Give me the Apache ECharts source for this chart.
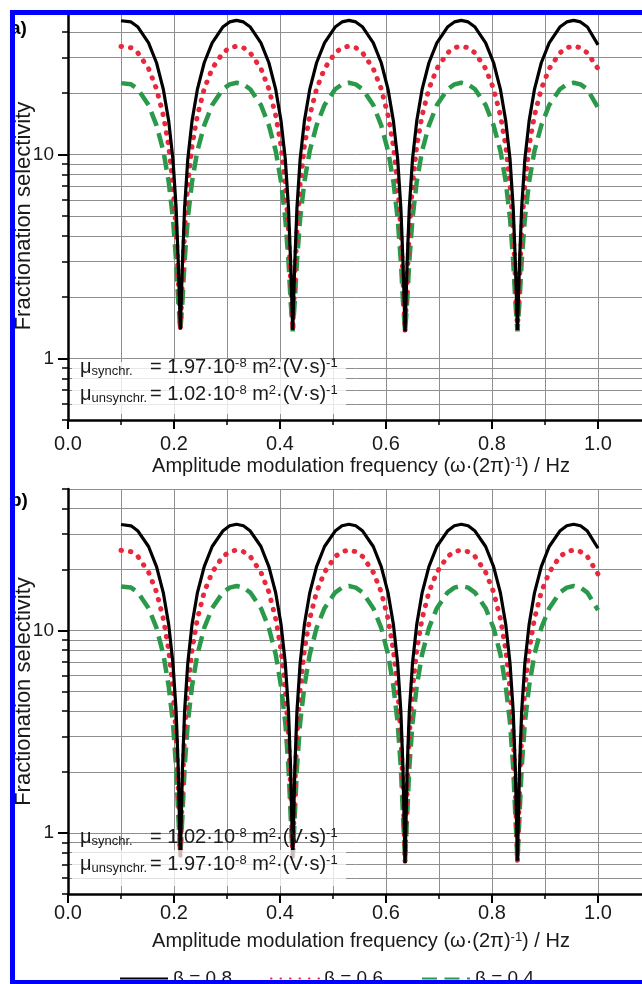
<!DOCTYPE html>
<html>
<head>
<meta charset="utf-8">
<script src="https://cdn.jsdelivr.net/npm/echarts@6/dist/echarts.min.js"></script>
<style>
html,body{margin:0;padding:0;background:#fff;}
#chart{width:642px;height:984px;}
</style>
</head>
<body>
<div id="chart"></div>
<script>
// ---- data ----
var xs = [0.100,0.119,0.132,0.152,0.167,0.180,0.190,0.198,0.204,0.208,0.212,
  0.216,0.220,0.226,0.234,0.244,0.257,0.272,0.292,0.305,0.318,0.331,0.344,0.364,0.379,0.392,0.402,0.410,0.416,0.420,0.424,
  0.428,0.432,0.438,0.446,0.456,0.469,0.484,0.504,0.517,0.530,0.543,0.556,0.576,0.591,0.604,0.614,0.622,0.628,0.632,0.636,
  0.640,0.644,0.650,0.658,0.668,0.681,0.696,0.716,0.729,0.742,0.755,0.768,0.788,0.803,0.816,0.826,0.834,0.840,0.844,0.848,
  0.852,0.856,0.862,0.870,0.880,0.893,0.908,0.928,0.941,0.954,0.967,0.980,1.000];

var aBlack = [45.3,44.7,42.2,35.3,28.2,20.8,14.6,9.5,5.5,3.0,1.39,
  3.0,5.5,9.5,14.6,20.8,28.2,35.3,42.2,44.7,45.5,44.7,42.2,35.3,28.2,20.8,14.6,9.5,5.5,3.0,1.38,
  3.0,5.5,9.5,14.6,20.8,28.2,35.3,42.2,44.7,45.5,44.7,42.2,35.3,28.2,20.8,14.6,9.5,5.5,3.0,1.36,
  3.0,5.5,9.5,14.6,20.8,28.2,35.3,42.2,44.7,45.5,44.7,42.2,35.3,28.2,20.8,14.6,9.5,5.5,3.0,1.38,
  3.0,5.5,9.5,14.6,20.8,28.2,35.3,42.2,44.7,45.5,44.7,42.2,34.5];
var aRed = [33.9,33.4,31.5,26.4,21.0,15.5,11.0,7.15,4.25,2.45,1.39,
  2.45,4.25,7.15,11.0,15.5,21.0,26.4,31.5,33.4,34.0,33.4,31.5,26.4,21.0,15.5,11.0,7.15,4.25,2.45,1.38,
  2.45,4.25,7.15,11.0,15.5,21.0,26.4,31.5,33.4,34.0,33.4,31.5,26.4,21.0,15.5,11.0,7.15,4.25,2.45,1.36,
  2.45,4.25,7.15,11.0,15.5,21.0,26.4,31.5,33.4,34.0,33.4,31.5,26.4,21.0,15.5,11.0,7.15,4.25,2.45,1.38,
  2.45,4.25,7.15,11.0,15.5,21.0,26.4,31.5,33.4,34.0,33.4,31.5,26.4];
var aGreen = [22.4,22.1,20.9,17.5,13.9,10.4,7.35,4.85,3.0,1.92,1.37,
  1.92,3.0,4.85,7.35,10.4,13.9,17.5,20.9,22.1,22.5,22.1,20.9,17.5,13.9,10.4,7.35,4.85,3.0,1.92,1.36,
  1.92,3.0,4.85,7.35,10.4,13.9,17.5,20.9,22.1,22.5,22.1,20.9,17.5,13.9,10.4,7.35,4.85,3.0,1.92,1.35,
  1.92,3.0,4.85,7.35,10.4,13.9,17.5,20.9,22.1,22.5,22.1,20.9,17.5,13.9,10.4,7.35,4.85,3.0,1.92,1.36,
  1.92,3.0,4.85,7.35,10.4,13.9,17.5,20.9,22.1,22.5,22.1,20.9,17.0];

var bBlack = [33.4,32.9,31.0,26.0,20.7,15.3,10.7,6.9,4.0,2.1,0.76,
  2.1,4.0,6.9,10.7,15.3,20.7,26.0,31.0,32.9,33.5,32.9,31.0,26.0,20.7,15.3,10.7,6.9,4.0,2.1,0.75,
  2.1,4.0,6.9,10.7,15.3,20.7,26.0,31.0,32.9,33.5,32.9,31.0,26.0,20.7,15.3,10.7,6.9,4.0,2.1,0.71,
  2.1,4.0,6.9,10.7,15.3,20.7,26.0,31.0,32.9,33.5,32.9,31.0,26.0,20.7,15.3,10.7,6.9,4.0,2.1,0.73,
  2.1,4.0,6.9,10.7,15.3,20.7,26.0,31.0,32.9,33.5,32.9,31.0,25.5];
var bRed = [24.9,24.5,23.2,19.4,15.5,11.4,8.0,5.15,3.05,1.66,0.76,
  1.66,3.05,5.15,8.0,11.4,15.5,19.4,23.2,24.5,25.0,24.5,23.2,19.4,15.5,11.4,8.0,5.15,3.05,1.66,0.75,
  1.66,3.05,5.15,8.0,11.4,15.5,19.4,23.2,24.5,25.0,24.5,23.2,19.4,15.5,11.4,8.0,5.15,3.05,1.66,0.72,
  1.66,3.05,5.15,8.0,11.4,15.5,19.4,23.2,24.5,25.0,24.5,23.2,19.4,15.5,11.4,8.0,5.15,3.05,1.66,0.72,
  1.66,3.05,5.15,8.0,11.4,15.5,19.4,23.2,24.5,25.0,24.5,23.2,19.0];
var bGreen = [16.5,16.3,15.4,12.9,10.3,7.6,5.3,3.5,2.1,1.23,0.77,
  1.23,2.1,3.5,5.3,7.6,10.3,12.9,15.4,16.3,16.6,16.3,15.4,12.9,10.3,7.6,5.3,3.5,2.1,1.23,0.76,
  1.23,2.1,3.5,5.3,7.6,10.3,12.9,15.4,16.3,16.6,16.3,15.4,12.9,10.3,7.6,5.3,3.5,2.1,1.23,0.73,
  1.23,2.1,3.5,5.3,7.6,10.3,12.9,15.4,16.3,16.6,16.3,15.4,12.9,10.3,7.6,5.3,3.5,2.1,1.23,0.73,
  1.23,2.1,3.5,5.3,7.6,10.3,12.9,15.4,16.3,16.6,16.3,15.4,12.6];

var seriesNames = ['β = 0.8', 'β = 0.6', 'β = 0.4'];
var yMinorTicks = [0.5,0.6,0.7,0.8,0.9,1,2,3,4,5,6,7,8,9,10,20,30,40,50];
var yMajorTicks = [1,10];
var yMin = 0.5, yMax = 50;
var xMin = 0, xMax = 1.2, xInterval = 0.2;

// ---- chart ----
var FONT = 'Liberation Sans, Arial, Helvetica, sans-serif';
var GRIDC = '#8e8e8e';
var TXT = '#1a1a1a';
var chart = echarts.init(document.getElementById('chart'), null, {renderer:'canvas'});

function pairs(ys){ return xs.map(function(x,i){ return [x, ys[i]]; }); }

var xName = 'Amplitude modulation frequency (ω·(2π){sup|-1}) / Hz';
var xNameStyle = {
  fontFamily: FONT, fontSize: 20, color: TXT, padding: [0, 50, 0, 0],
  rich: { sup: { fontFamily: FONT, fontSize: 13, color: TXT, verticalAlign: 'top', lineHeight: 12, padding:[0,0,9,0] } }
};

function xAxisCfg(gi, margin, gap){
  return {
    gridIndex: gi, type: 'value', min: xMin, max: xMax, interval: xInterval,
    axisLine: { show: true, onZero: false, lineStyle: { color: '#000', width: 2.5 } },
    axisTick: { show: true, length: 9, lineStyle: { color: '#000', width: 2 } },
    minorTick: { show: true, splitNumber: 2, length: 5, lineStyle: { color: '#000', width: 1.5 } },
    splitLine: { show: true, lineStyle: { color: GRIDC, width: 1 } },
    minorSplitLine: { show: true, lineStyle: { color: GRIDC, width: 1 } },
    axisLabel: { fontFamily: FONT, fontSize: 20, color: TXT, margin: margin,
      formatter: function(v){ return v <= 1.0001 ? v.toFixed(1) : ''; } },
    name: xName, nameLocation: 'middle', nameGap: gap, nameTextStyle: xNameStyle
  };
}
function yMinorCfg(gi){
  return {
    gridIndex: gi, type: 'log', logBase: 10, min: yMin, max: yMax, position: 'left',
    axisLine: { show: true, onZero: false, lineStyle: { color: '#000', width: 2.5 } },
    axisTick: { show: true, length: 6, customValues: yMinorTicks, lineStyle: { color: '#000', width: 1.5 } },
    axisLabel: { show: false },
    splitLine: { show: true, lineStyle: { color: GRIDC, width: 1 } },
    name: 'Fractionation selectivity', nameLocation: 'middle', nameGap: 33,
    nameTextStyle: { fontFamily: FONT, fontSize: 22, color: TXT }
  };
}
function yMajorCfg(gi){
  return {
    gridIndex: gi, type: 'log', logBase: 10, min: yMin, max: yMax, position: 'left', offset: 0,
    axisLine: { show: false, onZero: false },
    axisTick: { show: true, length: 10, customValues: yMajorTicks, lineStyle: { color: '#000', width: 2 } },
    axisLabel: { show: true, customValues: yMajorTicks, fontFamily: FONT, fontSize: 19, color: TXT, margin: 14,
      formatter: function(v){ return String(Math.round(v)); } },
    splitLine: { show: false }
  };
}

var styles = [
  { color: '#000000', width: 3.2, type: 'solid' },
  { color: '#e8283c', width: 5, type: [0.5, 9], cap: 'round' },
  { color: '#2a9a4a', width: 4.5, type: [15, 7.5], cap: 'butt' }
];
function lineSeries(i, xi, yi, ys, z){
  return { type: 'line', name: seriesNames[i], xAxisIndex: xi, yAxisIndex: yi, data: pairs(ys),
    symbol: 'none', showSymbol: false, silent: true, animation: false, z: z,
    itemStyle: { color: styles[i].color },
    lineStyle: { color: styles[i].color, width: styles[i].width, type: styles[i].type, cap: styles[i].cap || 'butt' } };
}

function annot(x1, x2, y, lhs, rhs){
  return [
    { type: 'text', left: x1, top: y, z: 200, style: { text: lhs, font: '20px ' + FONT, fill: TXT,
      rich: { sub: { fontFamily: FONT, fontSize: 13, fill: TXT, verticalAlign: 'bottom', padding: [8,0,0,0] },
              m: { fontFamily: FONT, fontSize: 20, fill: TXT } } } },
    { type: 'text', left: x2, top: y, z: 200, style: { text: rhs, font: '20px ' + FONT, fill: TXT,
      rich: { sup: { fontFamily: FONT, fontSize: 13, fill: TXT, verticalAlign: 'top', padding: [0,0,8,0] },
              t: { fontFamily: FONT, fontSize: 20, fill: TXT } } } }
  ];
}

var graphics = [
  { type: 'rect', z: 150, shape: { x: 72, y: 362, width: 274, height: 52 }, style: { fill: 'rgba(255,255,255,0.8)' } },
  { type: 'rect', z: 150, shape: { x: 72, y: 850, width: 274, height: 36 }, style: { fill: 'rgba(255,255,255,0.75)' } },
  { type: 'text', left: 10, top: 19, z: 200, style: { text: 'a)', font: 'bold 19px ' + FONT, fill: '#000' } },
  { type: 'text', left: 10, top: 491, z: 200, style: { text: 'b)', font: 'bold 19px ' + FONT, fill: '#000' } }
]
.concat(annot(80, 150, 357, '{m|μ}{sub|synchr.}', '{t|= 1.97·10}{sup|-8}{t| m}{sup|2}{t|·(V·s)}{sup|-1}'))
.concat(annot(80, 150, 384, '{m|μ}{sub|unsynchr.}', '{t|= 1.02·10}{sup|-8}{t| m}{sup|2}{t|·(V·s)}{sup|-1}'))
.concat(annot(80, 150, 827, '{m|μ}{sub|synchr.}', '{t|= 1.02·10}{sup|-8}{t| m}{sup|2}{t|·(V·s)}{sup|-1}'))
.concat(annot(80, 150, 854, '{m|μ}{sub|unsynchr.}', '{t|= 1.97·10}{sup|-8}{t| m}{sup|2}{t|·(V·s)}{sup|-1}'))
.concat([
  { type: 'rect', z: 300, shape: { x: 12.5, y: 12.5, width: 800, height: 970 }, style: { fill: 'none', stroke: '#0000ff', lineWidth: 5 } }
]);

var option = {
  animation: false,
  backgroundColor: '#ffffff',
  textStyle: { fontFamily: FONT },
  grid: [
    { left: 68, top: 12, width: 636, height: 408, containLabel: false, outerBoundsMode: 'none' },
    { left: 68, top: 489, width: 636, height: 405, containLabel: false, outerBoundsMode: 'none' }
  ],
  xAxis: [ xAxisCfg(0, 14, 36), xAxisCfg(1, 9, 37) ],
  yAxis: [ yMinorCfg(0), yMajorCfg(0), yMinorCfg(1), yMajorCfg(1) ],
  legend: {
    show: true, left: 114, top: 964, itemWidth: 48, itemHeight: 14, itemGap: 38,
    data: seriesNames, selectedMode: false,
    itemStyle: { opacity: 0, borderWidth: 0 },
    textStyle: { fontFamily: FONT, fontSize: 19, color: TXT }
  },
  series: [
    lineSeries(2, 0, 0, aGreen, 3), lineSeries(1, 0, 0, aRed, 4), lineSeries(0, 0, 0, aBlack, 5),
    lineSeries(2, 1, 2, bGreen, 3), lineSeries(1, 1, 2, bRed, 4), lineSeries(0, 1, 2, bBlack, 5)
  ],
  graphic: graphics
};
chart.setOption(option);
</script>
</body>
</html>
